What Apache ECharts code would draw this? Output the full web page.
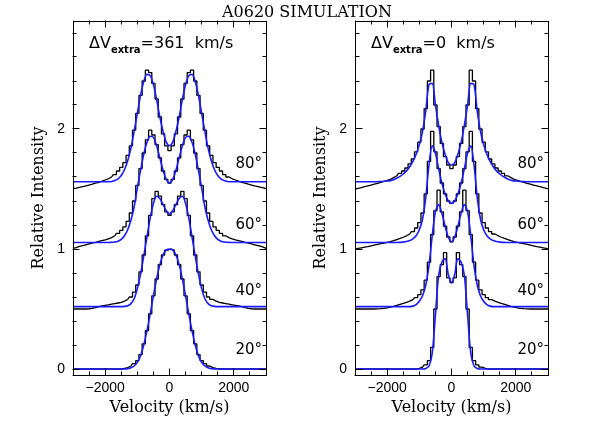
<!DOCTYPE html>
<html>
<head>
<meta charset="utf-8">
<script src="https://cdn.jsdelivr.net/npm/echarts@6/dist/echarts.min.js"></script>
<style>
  html, body { margin: 0; padding: 0; background: #fff; }
  #wrap { position: relative; width: 598px; height: 423px; }
  #chart { width: 598px; height: 423px; }
  .frame { position: absolute; box-sizing: border-box; border: 1px solid #000; pointer-events: none; }
</style>
</head>
<body>
<div id="wrap"><div id="chart"></div></div>
<script>
// velocity bins (km/s), 100 km/s wide, shared by all profiles
const VEL = [-3000,-2900,-2800,-2700,-2600,-2500,-2400,-2300,-2200,-2100,-2000,-1900,-1800,-1700,-1600,-1500,-1400,-1300,-1200,-1100,
  -1000,-900,-800,-700,-600,-500,-400,-300,-200,-100,0,100,200,300,400,500,600,700,800,900,1000,
  1100,1200,1300,1400,1500,1600,1700,1800,1900,2000,2100,2200,2300,2400,2500,2600,2700,2800,2900,3000];

// left panel: dV_extra = 361 km/s  (SIM = black histogram, FIT = blue curve)
const L20_SIM = [0,0,0,0,0,0,0,0,0,0,0,0,0,0,0,0,0.005,0.012,0.025,0.045,0.07,0.12,0.21,0.32,0.46,0.61,0.75,0.87,0.95,0.99,
  1.00,
  0.99,0.95,0.87,0.75,0.61,0.46,0.32,0.21,0.12,0.07,0.045,0.025,0.012,0.005,0,0,0,0,0,0,0,0,0,0,0,0,0,0,0,0];
const L20_FIT = [0,0,0,0,0,0,0,0,0,0,0,0,0,0,0,0,0,0.003,0.01,0.025,0.055,0.11,0.20,0.32,0.46,0.61,0.75,0.87,0.95,0.99,
  1.00,
  0.99,0.95,0.87,0.75,0.61,0.46,0.32,0.20,0.11,0.055,0.025,0.01,0.003,0,0,0,0,0,0,0,0,0,0,0,0,0,0,0,0,0];
const L40_SIM = [0.50,0.50,0.50,0.50,0.50,0.502,0.505,0.512,0.52,0.525,0.53,0.535,0.54,0.545,0.55,0.555,0.565,0.58,0.60,0.64,0.70,0.81,0.95,1.11,1.28,1.42,1.48,1.44,1.37,1.31,
  1.28,
  1.31,1.37,1.44,1.48,1.42,1.28,1.11,0.95,0.81,0.70,0.64,0.60,0.58,0.565,0.555,0.55,0.545,0.54,0.535,0.53,0.525,0.52,0.512,0.505,0.502,0.50,0.50,0.50,0.50,0.50];
const L40_FIT = [0.52,0.52,0.52,0.52,0.52,0.52,0.52,0.52,0.52,0.52,0.52,0.52,0.52,0.52,0.52,0.52,0.522,0.528,0.545,0.585,0.67,0.79,0.94,1.10,1.26,1.38,1.44,1.42,1.37,1.32,
  1.29,
  1.32,1.37,1.42,1.44,1.38,1.26,1.10,0.94,0.79,0.67,0.585,0.545,0.528,0.522,0.52,0.52,0.52,0.52,0.52,0.52,0.52,0.52,0.52,0.52,0.52,0.52,0.52,0.52,0.52,0.52];
const L60_SIM = [1.005,1.012,1.021,1.028,1.035,1.042,1.049,1.056,1.063,1.07,1.077,1.085,1.095,1.11,1.13,1.155,1.185,1.23,1.30,1.40,1.53,1.67,1.80,1.91,1.99,1.95,1.87,1.76,1.65,1.58,
  1.55,
  1.58,1.65,1.76,1.87,1.95,1.99,1.91,1.80,1.67,1.53,1.40,1.30,1.23,1.185,1.155,1.13,1.11,1.095,1.085,1.077,1.07,1.063,1.056,1.049,1.042,1.035,1.028,1.021,1.012,1.005];
const L60_FIT = [1.054,1.054,1.054,1.054,1.054,1.054,1.054,1.054,1.054,1.054,1.054,1.054,1.056,1.058,1.065,1.08,1.11,1.16,1.24,1.35,1.51,1.655,1.79,1.89,1.94,1.93,1.86,1.76,1.656,1.58,
  1.55,
  1.58,1.656,1.76,1.86,1.93,1.94,1.89,1.79,1.655,1.51,1.35,1.24,1.16,1.11,1.08,1.065,1.058,1.056,1.054,1.054,1.054,1.054,1.054,1.054,1.054,1.054,1.054,1.054,1.054,1.054];
const L80_SIM = [1.503,1.508,1.514,1.52,1.526,1.533,1.54,1.548,1.556,1.565,1.575,1.585,1.60,1.62,1.65,1.68,1.72,1.78,1.86,1.99,2.13,2.28,2.40,2.49,2.47,2.38,2.25,2.10,1.96,1.86,
  1.82,
  1.86,1.96,2.10,2.25,2.38,2.47,2.49,2.40,2.28,2.13,1.99,1.86,1.78,1.72,1.68,1.65,1.62,1.60,1.585,1.575,1.565,1.556,1.548,1.54,1.533,1.526,1.52,1.514,1.508,1.503];
const L80_FIT = [1.56,1.56,1.56,1.56,1.56,1.56,1.56,1.56,1.56,1.56,1.56,1.56,1.563,1.57,1.585,1.613,1.66,1.735,1.84,1.98,2.13,2.28,2.395,2.455,2.445,2.37,2.245,2.10,1.98,1.89,
  1.86,
  1.89,1.98,2.10,2.245,2.37,2.445,2.455,2.395,2.28,2.13,1.98,1.84,1.735,1.66,1.613,1.585,1.57,1.563,1.56,1.56,1.56,1.56,1.56,1.56,1.56,1.56,1.56,1.56,1.56,1.56];

// right panel: dV_extra = 0 km/s
const R20_SIM = [0,0,0,0,0,0,0,0,0,0,0,0,0,0,0,0,0,0,0,0,0.005,0.015,0.035,0.07,0.18,0.50,0.77,0.87,0.97,0.76,
  0.72,
  0.76,0.97,0.87,0.77,0.50,0.18,0.07,0.035,0.015,0.005,0,0,0,0,0,0,0,0,0,0,0,0,0,0,0,0,0,0,0,0];
const R20_FIT = [0,0,0,0,0,0,0,0,0,0,0,0,0,0,0,0,0,0,0,0,0,0,0.004,0.025,0.13,0.45,0.78,0.89,0.92,0.79,
  0.72,
  0.79,0.92,0.89,0.78,0.45,0.13,0.025,0.004,0,0,0,0,0,0,0,0,0,0,0,0,0,0,0,0,0,0,0,0,0,0];
const R40_SIM = [0.50,0.50,0.50,0.50,0.50,0.50,0.50,0.501,0.503,0.506,0.51,0.515,0.522,0.53,0.538,0.546,0.555,0.565,0.578,0.595,0.62,0.66,0.74,0.89,1.12,1.32,1.49,1.31,1.19,1.10,
  1.06,
  1.10,1.19,1.31,1.49,1.32,1.12,0.89,0.74,0.66,0.62,0.595,0.578,0.565,0.555,0.546,0.538,0.53,0.522,0.515,0.51,0.506,0.503,0.501,0.50,0.50,0.50,0.50,0.50,0.50,0.50];
const R40_FIT = [0.52,0.52,0.52,0.52,0.52,0.52,0.52,0.52,0.52,0.52,0.52,0.52,0.52,0.52,0.52,0.52,0.52,0.52,0.524,0.537,0.565,0.61,0.70,0.86,1.11,1.31,1.37,1.30,1.19,1.10,
  1.06,
  1.10,1.19,1.30,1.37,1.31,1.11,0.86,0.70,0.61,0.565,0.537,0.524,0.52,0.52,0.52,0.52,0.52,0.52,0.52,0.52,0.52,0.52,0.52,0.52,0.52,0.52,0.52,0.52,0.52,0.52];
const R60_SIM = [1.00,1.005,1.01,1.015,1.02,1.026,1.032,1.038,1.044,1.05,1.056,1.062,1.07,1.079,1.088,1.098,1.11,1.125,1.145,1.175,1.22,1.30,1.46,1.73,1.98,1.81,1.67,1.55,1.46,1.40,
  1.38,
  1.40,1.46,1.55,1.67,1.81,1.98,1.73,1.46,1.30,1.22,1.175,1.145,1.125,1.11,1.098,1.088,1.079,1.07,1.062,1.056,1.05,1.044,1.038,1.032,1.026,1.02,1.015,1.01,1.005,1.00];
const R60_FIT = [1.054,1.054,1.054,1.054,1.054,1.054,1.054,1.054,1.054,1.054,1.054,1.054,1.054,1.054,1.055,1.057,1.062,1.07,1.085,1.11,1.16,1.25,1.43,1.70,1.86,1.80,1.67,1.55,1.46,1.40,
  1.38,
  1.40,1.46,1.55,1.67,1.80,1.86,1.70,1.43,1.25,1.16,1.11,1.085,1.07,1.062,1.057,1.055,1.054,1.054,1.054,1.054,1.054,1.054,1.054,1.054,1.054,1.054,1.054,1.054,1.054,1.054];
const R80_SIM = [1.50,1.506,1.512,1.519,1.526,1.533,1.54,1.547,1.555,1.563,1.572,1.58,1.595,1.61,1.63,1.65,1.675,1.71,1.75,1.81,1.89,2.00,2.17,2.40,2.49,2.20,2.02,1.88,1.77,1.70,
  1.67,
  1.70,1.77,1.88,2.02,2.20,2.49,2.40,2.17,2.00,1.89,1.81,1.75,1.71,1.675,1.65,1.63,1.61,1.595,1.58,1.572,1.563,1.555,1.547,1.54,1.533,1.526,1.519,1.512,1.506,1.50];
const R80_FIT = [1.56,1.56,1.56,1.56,1.56,1.56,1.56,1.561,1.562,1.564,1.567,1.57,1.578,1.59,1.605,1.625,1.65,1.685,1.73,1.79,1.87,1.98,2.15,2.37,2.38,2.20,2.03,1.89,1.79,1.72,
  1.70,
  1.72,1.79,1.89,2.03,2.20,2.38,2.37,2.15,1.98,1.87,1.79,1.73,1.685,1.65,1.625,1.605,1.59,1.578,1.57,1.567,1.564,1.562,1.561,1.56,1.56,1.56,1.56,1.56,1.56,1.56];

// ticks and labels
const X_MAJOR = [-2000, 0, 2000];
const X_TICKS = [-2500, -2000, -1500, -1000, -500, 0, 500, 1000, 1500, 2000, 2500];
const Y_MAJOR = [0, 1, 2];
const Y_TICKS = [0, 0.2, 0.4, 0.6, 0.8, 1, 1.2, 1.4, 1.6, 1.8, 2, 2.2, 2.4, 2.6, 2.8];
const ANGLES = ['80°', '60°', '40°', '20°'];
const PANEL_NOTES = ['361', '0'];
const X_MIN = -3000, X_MAX = 3000, Y_MIN = -0.05, Y_MAX = 2.9;

const chart = echarts.init(document.getElementById('chart'));

const SANS = 'Liberation Sans';
const SERIF = 'DejaVu Serif';

function xAxis(gi) {
  return {
    type: 'value', gridIndex: gi, min: X_MIN, max: X_MAX, position: 'bottom',
    splitLine: { show: false },
    axisLine: { show: true, onZero: false, lineStyle: { color: '#000', width: 1 } },
    axisTick: { show: false },
    name: 'Velocity (km/s)', nameLocation: 'middle', nameGap: 22,
    nameTextStyle: { fontFamily: SERIF, fontSize: 16, color: '#000' },
    axisLabel: { customValues: X_MAJOR, margin: 6, fontFamily: SANS, fontSize: 14, color: '#000',
      formatter: v => String(v).replace('-', '\u2212') }
  };
}

function yAxis(gi) {
  return {
    type: 'value', gridIndex: gi, min: Y_MIN, max: Y_MAX, position: 'left',
    splitLine: { show: false },
    axisLine: { show: true, onZero: false, lineStyle: { color: '#000', width: 1 } },
    axisTick: { show: false },
    name: 'Relative Intensity', nameLocation: 'middle', nameGap: 26,
    nameTextStyle: { fontFamily: SERIF, fontSize: 16, color: '#000' },
    axisLabel: { customValues: Y_MAJOR, margin: 8, fontFamily: SANS, fontSize: 14, color: '#000' }
  };
}

function sim(vals, ai) {
  return {
    type: 'line', xAxisIndex: ai, yAxisIndex: ai, step: 'middle', symbol: 'none',
    lineStyle: { color: '#000', width: 1.3 }, silent: true, z: 2,
    data: VEL.map((v, i) => [v, vals[i]])
  };
}
function fit(vals, ai) {
  return {
    type: 'line', xAxisIndex: ai, yAxisIndex: ai, smooth: 0.3, symbol: 'none',
    lineStyle: { color: '#1a1aff', width: 1.6 }, silent: true, z: 3,
    data: VEL.map((v, i) => [v, vals[i]])
  };
}

// angle labels and dV notes
const ANGLE_Y = [166, 227, 293, 352];
const graphics = [];
[266, 548].forEach((right, p) => {
  ANGLES.forEach((a, k) => {
    graphics.push({ type: 'text', right: 598 - right + 4, top: ANGLE_Y[k] - 9,
      style: { text: a, font: '15px "DejaVu Sans"', fill: '#000' } });
  });
  graphics.push({ type: 'text', left: right - 177, top: 36,
    style: {
      text: '{a|\u0394V}{b|extra}{a|=' + PANEL_NOTES[p] + '  km/s}',
      rich: {
        a: { fontFamily: 'DejaVu Sans', fontSize: 16, fill: '#000', verticalAlign: 'bottom', lineHeight: 20, padding: [0, 0, 3, 0] },
        b: { fontFamily: 'DejaVu Sans', fontSize: 10, fontWeight: 'bold', fill: '#000', verticalAlign: 'bottom', lineHeight: 14 }
      }
    } });
});

chart.setOption({
  animation: false,
  backgroundColor: '#fff',
  title: {
    text: 'A0620 SIMULATION', left: 217, top: 0,
    textStyle: { fontFamily: SERIF, fontSize: 16, fontWeight: 'normal', color: '#000' }
  },
  grid: [
    { left: 73, top: 21, width: 193, height: 354 },
    { left: 355, top: 21, width: 193, height: 354 }
  ],
  xAxis: [xAxis(0), xAxis(1)],
  yAxis: [yAxis(0), yAxis(1)],
  series: [
    sim(L20_SIM, 0), sim(L40_SIM, 0), sim(L60_SIM, 0), sim(L80_SIM, 0),
    fit(L20_FIT, 0), fit(L40_FIT, 0), fit(L60_FIT, 0), fit(L80_FIT, 0),
    sim(R20_SIM, 1), sim(R40_SIM, 1), sim(R60_SIM, 1), sim(R80_SIM, 1),
    fit(R20_FIT, 1), fit(R40_FIT, 1), fit(R60_FIT, 1), fit(R80_FIT, 1)
  ],
  graphic: graphics
});

// inward ticks on all four sides, placed through the axes
const crisp = p => Math.round(p - 0.5) + 0.5;
function seg(x1, y1, x2, y2) {
  return { type: 'line', silent: true, z: 10,
    shape: { x1: crisp(x1), y1: crisp(y1), x2: crisp(x2), y2: crisp(y2) },
    style: { stroke: '#000', lineWidth: 1 } };
}
const wrap = document.getElementById('wrap');
[0, 1].forEach(ai => {
  const finder = { xAxisIndex: ai, yAxisIndex: ai };
  // box frame as an overlay, sized from the axes
  const lt = chart.convertToPixel(finder, [X_MIN, Y_MAX]);
  const rb = chart.convertToPixel(finder, [X_MAX, Y_MIN]);
  const box = document.createElement('div');
  box.className = 'frame';
  box.style.left = Math.round(lt[0]) + 'px';
  box.style.top = Math.round(lt[1]) + 'px';
  box.style.width = (Math.round(rb[0]) - Math.round(lt[0]) + 1) + 'px';
  box.style.height = (Math.round(rb[1]) - Math.round(lt[1]) + 1) + 'px';
  wrap.appendChild(box);

  X_TICKS.forEach(v => {
    const len = X_MAJOR.includes(v) ? 7 : 4;
    const b = chart.convertToPixel(finder, [v, Y_MIN]);
    const t = chart.convertToPixel(finder, [v, Y_MAX]);
    graphics.push(seg(b[0], b[1], b[0], b[1] - len));
    graphics.push(seg(t[0], t[1], t[0], t[1] + len));
  });
  Y_TICKS.forEach(v => {
    const len = Y_MAJOR.includes(v) ? 7 : 4;
    const l = chart.convertToPixel(finder, [X_MIN, v]);
    const r = chart.convertToPixel(finder, [X_MAX, v]);
    graphics.push(seg(l[0], l[1], l[0] + len, l[1]));
    graphics.push(seg(r[0], r[1], r[0] - len, r[1]));
  });
});
chart.setOption({ graphic: graphics });
</script>
</body>
</html>
